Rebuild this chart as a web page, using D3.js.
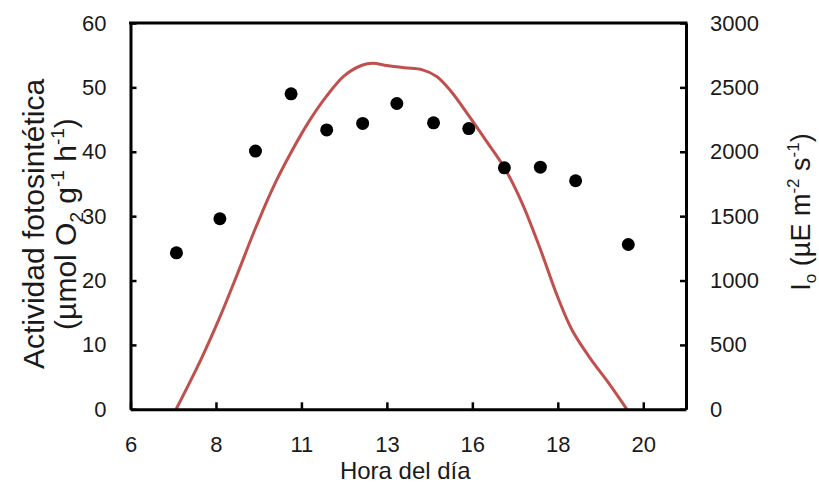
<!DOCTYPE html>
<html>
<head>
<meta charset="utf-8">
<script src="https://cdn.jsdelivr.net/npm/d3@7"></script>
<style>
  html, body { margin: 0; padding: 0; background: #fff; }
  svg { display: block; }
  text { font-family: "Liberation Sans", Arial, sans-serif; fill: #1a1a1a; }
</style>
</head>
<body>
<svg id="chart" width="819" height="484"></svg>
<script>
// Photosynthetic activity (points) by hour of day
const hours = [7.29, 8.51, 9.51, 10.51, 11.51, 12.52, 13.48, 14.51, 15.5, 16.5, 17.51, 18.5, 19.98];
const activity = [24.3, 29.6, 40.1, 49.0, 43.4, 44.4, 47.5, 44.5, 43.6, 37.5, 37.6, 35.5, 25.6];

// Incident irradiance I0 (smooth line) by hour of day
const lightHours = [7.28, 8.0, 8.5, 9.0, 9.5, 10.0, 10.5, 11.0, 11.5, 12.0, 12.5, 12.8, 13.2, 13.7, 14.2, 14.6, 15.0, 15.5, 16.0, 16.5, 17.0, 17.5, 18.0, 18.4, 18.9, 19.4, 19.94];
const irradiance = [0, 400, 710, 1050, 1400, 1720, 1990, 2230, 2430, 2590, 2672, 2688, 2670, 2652, 2636, 2585, 2470, 2280, 2080, 1876, 1600, 1250, 870, 616, 400, 215, 0];

// Hour axis: major unit of 0.1 day (2.4 h), labelled in whole hours
const hourTicks = [6, 8.4, 10.8, 13.2, 15.6, 18, 20.4];
const hourTickLabels = ["6", "8", "11", "13", "16", "18", "20"];
const leftTicks = [0, 10, 20, 30, 40, 50, 60];
const rightTicks = [0, 500, 1000, 1500, 2000, 2500, 3000];

const svg = d3.select("#chart");
const plotL = 130.5, plotR = 686, plotT = 23, plotB = 409.3;

const x = d3.scaleLinear().domain([6, 21.6]).range([plotL, plotR]);
const yL = d3.scaleLinear().domain([0, 60]).range([plotB, plotT]);
const yR = d3.scaleLinear().domain([0, 3000]).range([plotB, plotT]);

const tickFont = 22;

// Irradiance curve
const line = d3.line()
  .x((d, i) => x(lightHours[i]))
  .y(d => yR(d))
  .curve(d3.curveCatmullRom.alpha(0.5));
svg.append("path")
  .datum(irradiance)
  .attr("d", line)
  .attr("fill", "none")
  .attr("stroke", "#c0504d")
  .attr("stroke-width", 3);

// Activity points
svg.append("g").selectAll("circle")
  .data(activity)
  .join("circle")
  .attr("cx", (d, i) => x(hours[i]))
  .attr("cy", d => yL(d))
  .attr("r", 6.5)
  .attr("fill", "#000");

// Axes
const axisStyle = g => {
  g.select(".domain").attr("stroke", "#000").attr("stroke-width", 3);
  g.selectAll(".tick line").attr("stroke", "#000").attr("stroke-width", 2.5);
  g.selectAll(".tick text")
    .attr("font-size", tickFont)
    .attr("font-family", "Liberation Sans, Arial, sans-serif")
    .attr("fill", "#1a1a1a");
};

svg.append("g")
  .attr("transform", `translate(0,${plotB})`)
  .call(d3.axisBottom(x).tickValues(hourTicks)
    .tickFormat((d, i) => hourTickLabels[i])
    .tickSizeInner(-7).tickSizeOuter(0).tickPadding(27))
  .call(axisStyle);

svg.append("g")
  .attr("transform", `translate(${plotL},0)`)
  .call(d3.axisLeft(yL).tickValues(leftTicks)
    .tickSizeInner(-6).tickSizeOuter(0).tickPadding(24))
  .call(axisStyle);

svg.append("g")
  .attr("transform", `translate(${plotR},0)`)
  .call(d3.axisRight(yR).tickValues(rightTicks)
    .tickFormat(d3.format("d"))
    .tickSizeInner(-6).tickSizeOuter(0).tickPadding(24))
  .call(axisStyle);

// Top frame line
svg.append("line")
  .attr("x1", plotL - 1.5).attr("x2", plotR + 1.5)
  .attr("y1", plotT).attr("y2", plotT)
  .attr("stroke", "#000").attr("stroke-width", 3);

// Axis titles
svg.append("text")
  .attr("x", (plotL + plotR) / 2 - 3)
  .attr("y", 479)
  .attr("text-anchor", "middle")
  .attr("font-size", 24)
  .text("Hora del día");

const leftTitle = svg.append("text")
  .attr("transform", "translate(0,224) rotate(-90)")
  .attr("text-anchor", "middle")
  .attr("font-size", 30);
leftTitle.append("tspan").attr("x", 0).attr("y", 44).text("Actividad fotosintética");
const l2 = leftTitle.append("tspan").attr("x", 0).attr("y", 76);
l2.append("tspan").text("(µmol O");
l2.append("tspan").attr("font-size", 19).attr("dy", 7).text("2");
l2.append("tspan").attr("dy", -7).text(" g");
l2.append("tspan").attr("font-size", 19).attr("dy", -12).text("-1");
l2.append("tspan").attr("dy", 12).text(" h");
l2.append("tspan").attr("font-size", 19).attr("dy", -12).text("-1");
l2.append("tspan").attr("dy", 12).text(")");

const rightTitle = svg.append("text")
  .attr("transform", "translate(810,212) rotate(-90)")
  .attr("text-anchor", "middle")
  .attr("font-size", 27);
rightTitle.append("tspan").text("I");
rightTitle.append("tspan").attr("font-size", 17).attr("dy", 6).text("o");
rightTitle.append("tspan").attr("dy", -6).text(" (µE m");
rightTitle.append("tspan").attr("font-size", 17).attr("dy", -11).text("-2");
rightTitle.append("tspan").attr("dy", 11).text(" s");
rightTitle.append("tspan").attr("font-size", 17).attr("dy", -11).text("-1");
rightTitle.append("tspan").attr("dy", 11).text(")");
</script>
</body>
</html>
